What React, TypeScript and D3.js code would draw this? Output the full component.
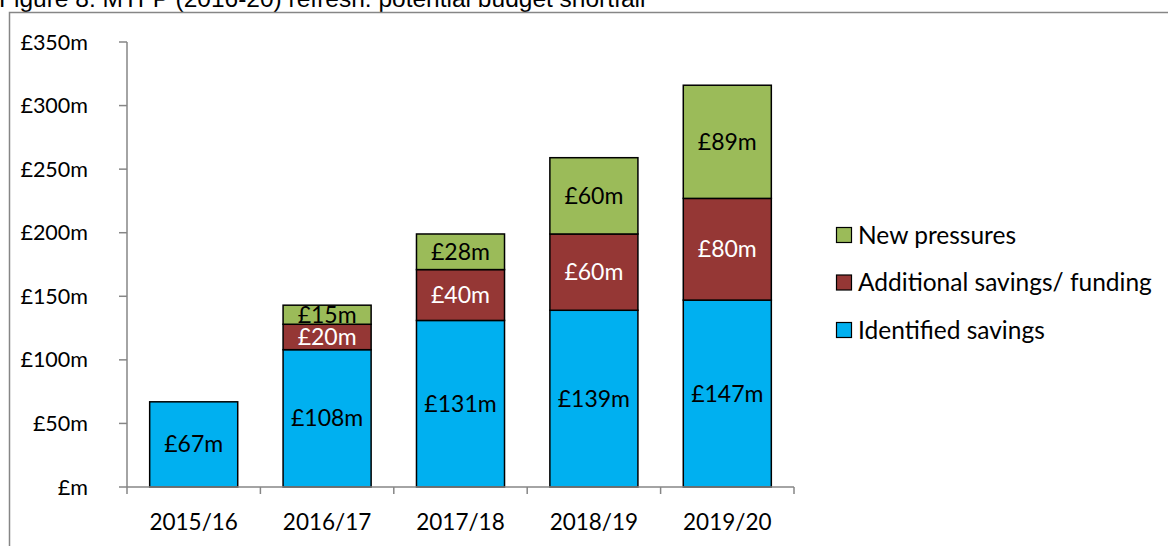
import React from 'react';
import * as d3 from 'd3';

const years = ['2015/16', '2016/17', '2017/18', '2018/19', '2019/20'];
const identified = [67, 108, 131, 139, 147];
const additional = [0, 20, 40, 60, 80];
const pressures = [0, 15, 28, 60, 89];
const yTicks = [0, 50, 100, 150, 200, 250, 300, 350];

const seriesNames = ['Identified savings', 'Additional savings/ funding', 'New pressures'];
const seriesColors = ['#00B0F0', '#953735', '#9BBB59'];
const labelColors = ['#000', '#fff', '#000'];

const W = 1168;
const H = 546;
const font = 'Lato, "Open Sans", sans-serif';

const App = () => {
  const table = years.map((y, i) => ({
    year: y,
    s0: identified[i],
    s1: additional[i],
    s2: pressures[i],
  }));
  const stack = d3.stack<any>().keys(['s0', 's1', 's2'])(table);

  const x = d3.scaleBand().domain(years).range([127, 794]).paddingInner(0.34).paddingOuter(0.17);
  const y = d3.scaleLinear().domain([0, 350]).range([487, 42]);
  const axisColor = '#868686';

  // tick boundaries between categories
  const step = x.step();
  const bounds = d3.range(years.length + 1).map(i => 127 + i * step);

  return (
    <svg width={W} height={H} style={{ position: 'absolute', left: 0, top: 0, background: '#fff' }}>
      <text x={-1} y={6.5} fontFamily='"Liberation Sans", Arial, sans-serif' fontSize={24.5} fill="#000">
        Figure 8: MTFP (2016-20) refresh: potential budget shortfall
      </text>
      <rect x={9.5} y={12.5} width={W + 10} height={H + 10} fill="#fff" stroke={axisColor} strokeWidth={1.5} />

      {/* y axis */}
      <line x1={127} x2={127} y1={y(350)} y2={y(0)} stroke={axisColor} strokeWidth={1.5} />
      {yTicks.map(t => (
        <g key={t}>
          <line x1={119} x2={127} y1={y(t)} y2={y(t)} stroke={axisColor} strokeWidth={1.5} />
          <text x={88} y={y(t)} dy="0.35em" textAnchor="end" fontFamily={font} fontSize={21.5} fill="#000">
            {t === 0 ? '£m' : `£${t}m`}
          </text>
        </g>
      ))}

      {/* bars */}
      {stack.map((layer, si) => (
        <g key={si}>
          {layer.map((d, i) => {
            const v = d[1] - d[0];
            if (v <= 0) return null;
            const bx = x(years[i])!;
            const y0 = y(d[0]);
            const y1 = y(d[1]);
            return (
              <g key={i}>
                <rect x={bx} y={y1} width={x.bandwidth()} height={y0 - y1}
                  fill={seriesColors[si]} stroke="#000" strokeWidth={1.5} />
                <text x={bx + x.bandwidth() / 2} y={(y0 + y1) / 2} dy="0.35em" textAnchor="middle"
                  fontFamily={font} fontSize={23} fill={labelColors[si]}>
                  {`£${v}m`}
                </text>
              </g>
            );
          })}
        </g>
      ))}

      {/* x axis */}
      <line x1={127} x2={794} y1={y(0)} y2={y(0)} stroke={axisColor} strokeWidth={1.5} />
      {bounds.map((b, i) => (
        <line key={i} x1={b} x2={b} y1={y(0)} y2={y(0) + 7} stroke={axisColor} strokeWidth={1.5} />
      ))}
      {years.map(yr => (
        <text key={yr} x={x(yr)! + x.bandwidth() / 2} y={522} dy="0.35em" textAnchor="middle"
          fontFamily={font} fontSize={22.5} fill="#000">
          {yr}
        </text>
      ))}

      {/* legend */}
      {[2, 1, 0].map((si, k) => {
        const cy = 235 + k * 47.5;
        return (
          <g key={si}>
            <rect x={836.5} y={cy - 7.5} width={15} height={15} fill={seriesColors[si]} stroke="#000" strokeWidth={1.2} />
            <text x={858} y={cy} dy="0.35em" fontFamily={font} fontSize={24.5} fill="#000">
              {seriesNames[si]}
            </text>
          </g>
        );
      })}
    </svg>
  );
};

export default App;
